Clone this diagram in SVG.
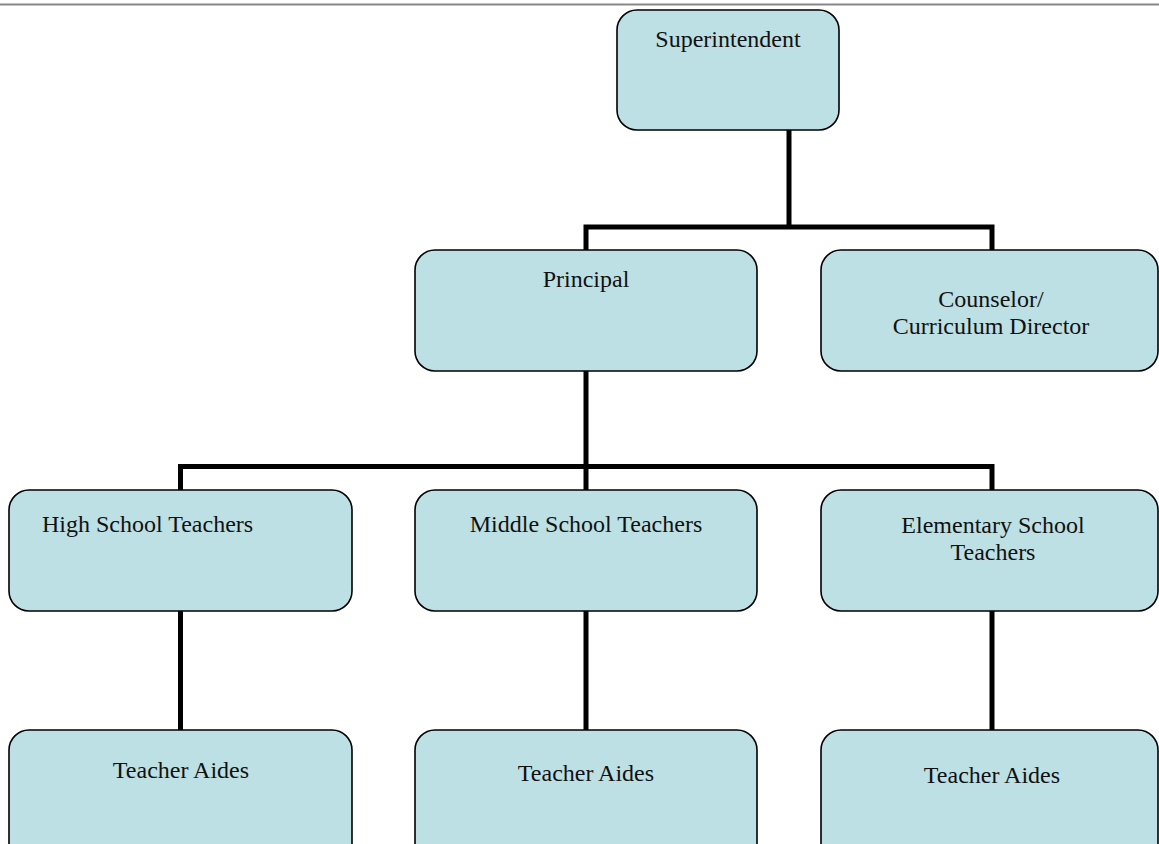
<svg xmlns="http://www.w3.org/2000/svg" width="1159" height="844" viewBox="0 0 1159 844">
<style>
.box{fill:#bde0e4;stroke:#000;stroke-width:1.6}
.lbl{font-family:"Liberation Serif","Times New Roman",serif;font-size:24px;fill:#111}
.c{text-anchor:middle}
.conn{fill:none;stroke:#000;stroke-width:5;stroke-linejoin:miter;stroke-linecap:butt}
</style>
<rect x="0" y="0" width="1159" height="844" fill="#fff"/>
<line x1="0" y1="4.5" x2="1159" y2="4.5" stroke="#888" stroke-width="2"/>
<g id="connectors">
<path class="conn" d="M789,130 V227"/>
<path class="conn" d="M586,250 V227 H992 V250"/>
<path class="conn" d="M586,371 V490"/>
<path class="conn" d="M180.5,490 V466.5 H992 V490"/>
<path class="conn" d="M180.5,611 V730"/>
<path class="conn" d="M586,611 V730"/>
<path class="conn" d="M992,611 V730"/>
</g>
<g id="superintendent">
<rect class="box" x="617" y="10" width="222" height="120" rx="20"/>
<text class="lbl c" x="728" y="47">Superintendent</text>
</g>
<g id="principal">
<rect class="box" x="415" y="250" width="342" height="121" rx="20"/>
<text class="lbl c" x="586" y="287">Principal</text>
</g>
<g id="counselor">
<rect class="box" x="821" y="250" width="337" height="121" rx="20"/>
<text class="lbl c" x="991" y="307">Counselor/</text>
<text class="lbl c" x="991" y="334">Curriculum Director</text>
</g>
<g id="high-school">
<rect class="box" x="9" y="490" width="343" height="121" rx="20"/>
<text class="lbl" x="42" y="532">High School Teachers</text>
</g>
<g id="middle-school">
<rect class="box" x="415" y="490" width="342" height="121" rx="20"/>
<text class="lbl c" x="586" y="532">Middle School Teachers</text>
</g>
<g id="elementary-school">
<rect class="box" x="821" y="490" width="337" height="121" rx="20"/>
<text class="lbl c" x="993" y="533">Elementary School</text>
<text class="lbl c" x="993" y="560">Teachers</text>
</g>
<g id="aides-hs">
<rect class="box" x="9" y="730" width="343" height="140" rx="20"/>
<text class="lbl c" x="181" y="778">Teacher Aides</text>
</g>
<g id="aides-ms">
<rect class="box" x="415" y="730" width="342" height="140" rx="20"/>
<text class="lbl c" x="586" y="781">Teacher Aides</text>
</g>
<g id="aides-es">
<rect class="box" x="821" y="730" width="337" height="140" rx="20"/>
<text class="lbl c" x="992" y="783">Teacher Aides</text>
</g>
</svg>
